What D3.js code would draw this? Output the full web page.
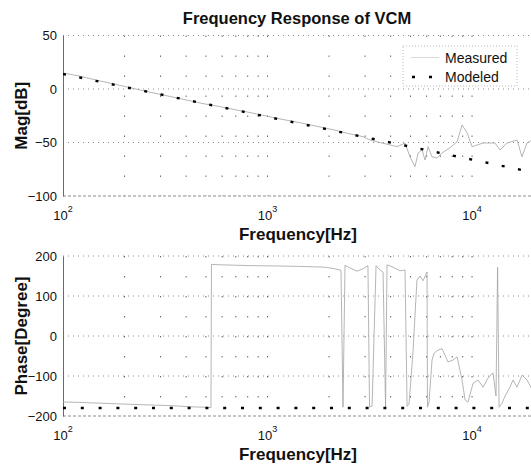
<!DOCTYPE html>
<html>
<head>
<meta charset="utf-8">
<script src="https://cdn.jsdelivr.net/npm/d3@7/dist/d3.min.js"></script>
<style>
  html, body { margin: 0; padding: 0; background: #fff; }
  svg { display: block; font-family: "Liberation Sans", Arial, Helvetica, sans-serif; }
</style>
</head>
<body>
<svg id="chart" width="531" height="467"></svg>
<script>
// Frequency response of the VCM: measured vs. modeled magnitude and phase
const xTickValues = [100, 1000, 10000];
const xTickExponents = ["2", "3", "4"];
const magTicks = [50, 0, -50, -100];
const phaseTicks = [200, 100, 0, -100, -200];

// Magnitude [dB]
const magFreq = [100, 121, 152, 194, 252, 334, 418, 495, 586, 700, 821, 1000, 1151, 1442,
  1911, 2138, 2531, 2931, 3170, 3548, 4300, 4703, 4980, 5260, 5450, 5700, 5890, 6100,
  6370, 6740, 7130, 7800, 8450, 8940, 9460, 10000, 11320, 12950, 13700, 14830, 16600,
  17540, 18570, 20000];
const magMeasured = [15, 12, 7.5, 3, -2, -7, -11, -14, -16.5, -19.5, -22, -25.5, -28, -31.5,
  -36.5, -38.5, -42, -44.5, -47.7, -50, -53.9, -50.5, -63.6, -72.6, -59.8, -57, -66.4, -53.9,
  -63.3, -64.5, -59.8, -55, -49.3, -33.6, -41, -53.9, -50.5, -50.5, -57, -50.5, -47.7,
  -63.3, -50.5, -47];
const modelMagFreq = [100, 1000, 10000, 20000];
const modelMag = [14, -26, -66, -78];

// Phase [degree]
const phaseFreq = [100, 121, 152, 194, 252, 334, 418, 495, 529, 532, 586, 821, 1151, 1442,
  1911, 2138, 2287, 2339, 2393, 2531, 2740, 2931, 3098, 3154, 3245, 3394, 3548, 3672,
  3777, 3840, 4109, 4446, 4703, 4813, 4920, 5144, 5379, 5568, 5758, 6026, 6054, 6164,
  6374, 6521, 6822, 7136, 7632, 8075, 8451, 8935, 9247, 9557, 10116, 10700, 11316, 11968,
  12663, 13097, 13334, 13557, 14021, 14503, 15337, 15857, 16599, 17553, 18570, 20000];
const phaseMeasured = [-165, -166, -168, -170, -172, -174, -177, -178, -179, 179, 178, 176, 175, 174,
  172, 168, 164, -178, 177, 170, 162, 168, 176, -178, -175, 176, 165, 160,
  -178, 178, 172, 163, 165, -176, -170, -40, 140, 150, 138, 160, -178, -165,
  -60, -43, -35, -32, -65, -60, -52, -110, -160, -165, -118, -110, -128, -105,
  -92, -150, 172, -178, -168, -150, -128, -110, -128, -98, -110, -140];
const modelPhaseFreq = [100, 20000];
const modelPhase = [-180, -180];

const svg = d3.select("#chart");
const x = d3.scaleLog().domain([100, 20000]).range([63, 533.6]);

function drawPanel(opts) {
  const { y, yTicks, top, bottom, measF, measV, modF, modV, ylabel, dash, legend, clipId } = opts;
  const g = svg.append("g");

  g.append("clipPath").attr("id", clipId)
    .append("rect").attr("x", 63).attr("y", top - 2)
    .attr("width", 480).attr("height", bottom - top + 4);

  // vertical grid at every decade multiple
  g.append("g").selectAll("line")
    .data(x.ticks().filter(d => d > 100))
    .join("line")
    .attr("x1", d => x(d)).attr("x2", d => x(d))
    .attr("y1", top).attr("y2", bottom)
    .attr("stroke", "#5a5a5a").attr("stroke-width", 1)
    .attr("stroke-dasharray", "1.4,18.6");

  // horizontal grid at each y tick
  g.append("g").selectAll("line")
    .data(yTicks)
    .join("line")
    .attr("x1", 63).attr("x2", 531)
    .attr("y1", d => y(d)).attr("y2", d => y(d))
    .attr("stroke", "#8c8c8c").attr("stroke-width", 1)
    .attr("stroke-dasharray", d => d === yTicks[yTicks.length - 1] ? "3,2" : "1,4");

  // left axis
  const ax = g.append("g").attr("transform", "translate(63,0)")
    .call(d3.axisLeft(y).tickValues(yTicks).tickSize(0).tickPadding(6).tickSizeOuter(0));
  ax.select(".domain").attr("stroke", "#6a6a6a").attr("stroke-width", 1);
  ax.selectAll("text").attr("font-size", 13).attr("fill", "#111")
    .attr("font-family", "Liberation Sans, Arial, sans-serif");

  // x tick labels 10^n
  const xt = g.append("g").selectAll("text")
    .data(xTickValues)
    .join("text")
    .attr("x", d => x(d))
    .attr("y", bottom + 23.5)
    .attr("text-anchor", "middle")
    .attr("font-size", 13)
    .attr("fill", "#111");
  xt.append("tspan").text("10");
  xt.append("tspan").attr("dy", -8).attr("font-size", 9).text((d, i) => xTickExponents[i]);

  // x label
  g.append("text")
    .attr("x", 298).attr("y", bottom + 44)
    .attr("text-anchor", "middle")
    .attr("font-size", 17).attr("font-weight", "bold").attr("fill", "#111")
    .text("Frequency[Hz]");

  // y label
  g.append("text")
    .attr("transform", `translate(27,${(top + bottom) / 2}) rotate(-90)`)
    .attr("text-anchor", "middle")
    .attr("font-size", 17).attr("font-weight", "bold").attr("fill", "#111")
    .text(ylabel);

  const line = d3.line().x(d => x(d[0])).y(d => y(d[1]));
  const plot = g.append("g").attr("clip-path", `url(#${clipId})`);

  plot.append("path")
    .datum(measF.map((f, i) => [f, measV[i]]))
    .attr("d", line)
    .attr("fill", "none")
    .attr("stroke", "#a2a2a2")
    .attr("stroke-width", 0.8);

  plot.append("path")
    .datum(modF.map((f, i) => [f, modV[i]]))
    .attr("d", line)
    .attr("fill", "none")
    .attr("stroke", "#000")
    .attr("stroke-width", 2.4)
    .attr("stroke-dasharray", dash);

  if (legend) {
    const lg = g.append("g");
    lg.append("rect")
      .attr("x", 403).attr("y", 46).attr("width", 114).attr("height", 40)
      .attr("fill", "#fff").attr("stroke", "#a8a8a8").attr("stroke-width", 0.8)
      .attr("stroke-dasharray", "1,2");
    lg.append("line")
      .attr("x1", 411).attr("x2", 439).attr("y1", 57.5).attr("y2", 57.5)
      .attr("stroke", "#d0d0d0").attr("stroke-width", 0.8);
    lg.append("line")
      .attr("x1", 412).attr("x2", 440).attr("y1", 77).attr("y2", 77)
      .attr("stroke", "#000").attr("stroke-width", 2.4)
      .attr("stroke-dasharray", "3,14");
    lg.append("text").attr("x", 445).attr("y", 62.5)
      .attr("font-size", 14).attr("fill", "#111").text("Measured");
    lg.append("text").attr("x", 445).attr("y", 82)
      .attr("font-size", 14).attr("fill", "#111").text("Modeled");
  }
}

drawPanel({
  y: d3.scaleLinear().domain([-100, 50]).range([196, 35.5]),
  yTicks: magTicks, top: 35.5, bottom: 196,
  measF: magFreq, measV: magMeasured, modF: modelMagFreq, modV: modelMag,
  ylabel: "Mag[dB]", dash: "3,13.6", legend: true, clipId: "clipMag"
});

drawPanel({
  y: d3.scaleLinear().domain([-200, 200]).range([416, 256]),
  yTicks: phaseTicks, top: 256, bottom: 416,
  measF: phaseFreq, measV: phaseMeasured, modF: modelPhaseFreq, modV: modelPhase,
  ylabel: "Phase[Degree]", dash: "3,14.8", legend: false, clipId: "clipPhase"
});

// title
svg.append("text")
  .attr("x", 297).attr("y", 24)
  .attr("text-anchor", "middle")
  .attr("font-size", 16.5).attr("font-weight", "bold").attr("fill", "#111")
  .text("Frequency Response of VCM");
</script>
</body>
</html>
